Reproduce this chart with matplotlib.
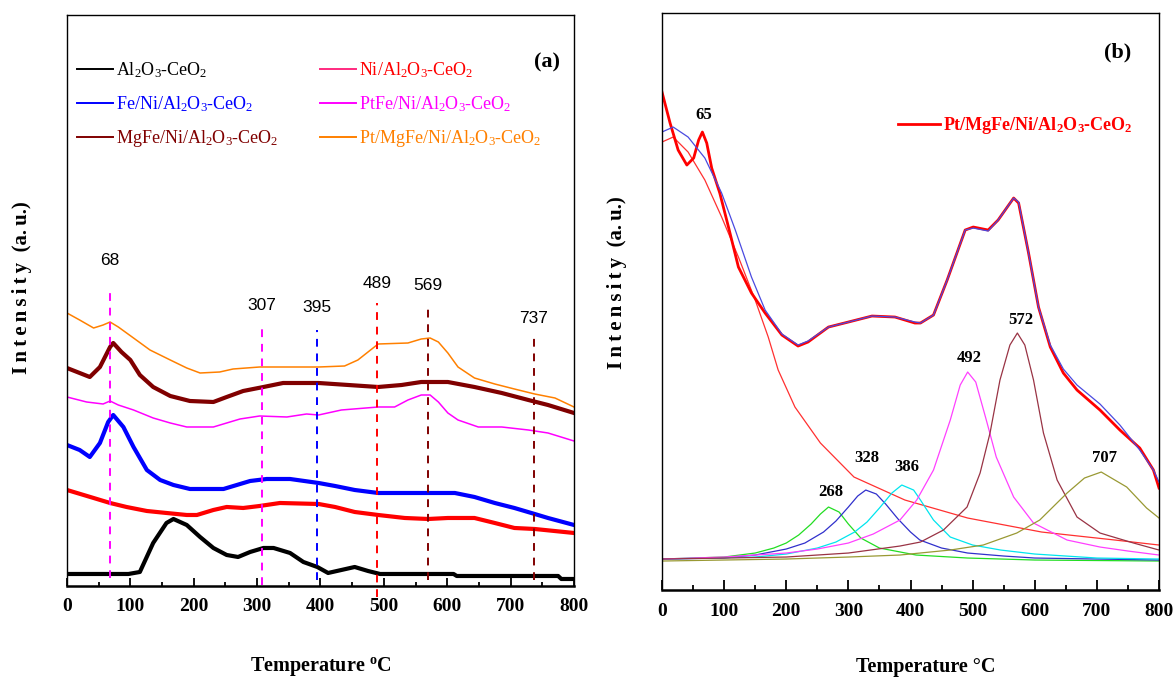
import matplotlib
matplotlib.use("Agg")
import matplotlib.pyplot as plt
from matplotlib import font_manager
from matplotlib.lines import Line2D
from matplotlib.ticker import MultipleLocator

plt.rcParams["font.family"] = "Liberation Serif"
plt.rcParams["mathtext.fontset"] = "custom"
plt.rcParams["mathtext.rm"] = "Liberation Serif"
plt.rcParams["mathtext.it"] = "Liberation Serif:italic"
plt.rcParams["mathtext.bf"] = "Liberation Serif:bold"

_installed = {f.name for f in font_manager.fontManager.ttflist}
NARROW = "Liberation Sans Narrow" if "Liberation Sans Narrow" in _installed else "Liberation Sans"

# ---------------- (a) H2-TPR profiles of the catalyst series ----------------
AL_T = [0, 97, 115, 136, 157, 168, 189, 210, 231, 252, 270, 289, 310, 326, 352, 373,
        395, 412, 433, 454, 475, 494, 610, 615, 775, 780, 800]
AL_I = [12, 12, 14, 43, 63, 67, 61, 49, 38, 31, 29, 34, 38, 38, 33, 24,
        19, 13, 16, 19, 15, 12, 12, 10, 10, 7, 7]

NI_T = [0, 42, 68, 94, 126, 157, 189, 205, 231, 252, 278, 304, 336, 397, 423, 454,
        491, 533, 570, 601, 643, 675, 706, 738, 800]
NI_I = [96, 88, 83, 79, 75, 73, 71, 71, 76, 79, 78, 80, 83, 82, 79, 74,
        71, 68, 67, 68, 68, 63, 58, 57, 53]

FE_T = [0, 20, 36, 52, 65, 73, 89, 105, 126, 147, 168, 194, 247, 268, 289, 315, 352,
        397, 423, 454, 491, 612, 643, 675, 706, 738, 759, 800]
FE_I = [141, 136, 129, 143, 164, 171, 159, 139, 116, 106, 101, 97, 97, 101, 105, 107, 107,
        103, 100, 96, 93, 93, 89, 83, 78, 72, 68, 61]

PTFE_T = [0, 31, 57, 68, 81, 105, 136, 163, 189, 231, 252, 273, 304, 347, 378, 397, 433,
          491, 517, 538, 559, 573, 586, 601, 617, 649, 686, 728, 759, 800]
PTFE_I = [189, 184, 182, 185, 181, 176, 168, 163, 159, 159, 163, 167, 170, 169, 172, 171, 176,
          179, 179, 186, 191, 191, 184, 173, 166, 159, 159, 156, 153, 145]

MGFE_T = [0, 20, 36, 52, 68, 73, 86, 100, 115, 136, 163, 194, 231, 252, 278, 310, 341,
          397, 444, 491, 528, 559, 601, 643, 686, 728, 759, 800]
MGFE_I = [218, 213, 209, 219, 239, 243, 234, 226, 211, 199, 190, 185, 184, 189, 195, 199, 203,
          203, 201, 199, 201, 204, 204, 199, 193, 186, 181, 173]

PTMGFE_T = [0, 20, 42, 57, 68, 81, 105, 131, 163, 189, 210, 241, 262, 304, 397, 438, 459,
            475, 491, 538, 559, 573, 586, 601, 617, 643, 675, 706, 738, 770, 800]
PTMGFE_I = [273, 266, 258, 261, 264, 259, 248, 236, 226, 218, 213, 214, 217, 219, 219, 220, 226,
            234, 242, 243, 247, 248, 244, 233, 219, 208, 202, 197, 192, 188, 179]

LABELS_A = [r"Al$_2$O$_3$-CeO$_2$", r"Fe/Ni/Al$_2$O$_3$-CeO$_2$", r"MgFe/Ni/Al$_2$O$_3$-CeO$_2$",
            r"Ni/Al$_2$O$_3$-CeO$_2$", r"PtFe/Ni/Al$_2$O$_3$-CeO$_2$", r"Pt/MgFe/Ni/Al$_2$O$_3$-CeO$_2$"]

PEAKS_A = [68, 307, 395, 489, 569, 737]

# ---------------- (b) deconvolution of Pt/MgFe/Ni/Al2O3-CeO2 ----------------
EXP_T = [0, 13, 26, 40, 51, 59, 65, 72, 80, 93, 107, 123, 144, 166, 193, 219, 235, 268, 300,
         338, 375, 407, 416, 437, 459, 488, 501, 525, 541, 566, 574, 590, 606, 625, 646, 668,
         705, 737, 769, 791, 800]
EXP_I = [498, 467, 440, 425, 432, 450, 458, 447, 422, 397, 363, 323, 297, 277, 255, 244, 248, 263, 268,
         274, 273, 267, 267, 275, 310, 360, 363, 360, 370, 392, 387, 337, 283, 243, 217, 200,
         180, 160, 142, 120, 102]

ENV_T = [0, 18, 42, 69, 96, 118, 144, 166, 193, 219, 235, 268, 300, 338, 375, 407, 416, 437,
         459, 488, 501, 525, 541, 566, 574, 590, 606, 625, 646, 668, 705, 737, 769, 791, 800]
ENV_I = [458, 463, 453, 432, 397, 360, 313, 280, 256, 245, 249, 263, 268, 274, 273, 268, 267, 275,
         310, 360, 362, 359, 370, 392, 388, 337, 283, 245, 221, 205, 186, 165, 140, 120, 108]

BG_T = [0, 18, 42, 69, 96, 123, 150, 171, 187, 214, 255, 309, 391, 492, 611, 729, 800]
BG_I = [448, 453, 438, 410, 373, 333, 290, 253, 220, 183, 147, 113, 90, 72, 58, 50, 45]

P268_T = [0, 100, 150, 180, 200, 220, 240, 255, 268, 285, 300, 320, 350, 409, 492, 600, 800]
P268_I = [31, 33, 37, 42, 47, 55, 66, 76, 83, 78, 66, 52, 42, 35, 32, 30, 29]

P328_T = [0, 100, 150, 200, 230, 260, 280, 300, 315, 328, 345, 360, 380, 400, 415, 450, 492,
          550, 600, 700, 800]
P328_I = [31, 32, 35, 41, 47, 58, 69, 83, 94, 100, 96, 86, 71, 58, 50, 42, 37,
          34, 32, 31, 30]

P386_T = [0, 150, 200, 250, 280, 310, 330, 350, 370, 386, 405, 416, 437, 464, 500, 545, 600, 700, 800]
P386_I = [31, 33, 36, 42, 48, 58, 68, 82, 97, 105, 100, 90, 70, 53, 45, 40, 36, 32, 31]

P492_T = [0, 100, 200, 250, 300, 340, 383, 410, 437, 464, 480, 492, 505, 522, 538, 566, 598,
          652, 705, 750, 800]
P492_I = [31, 33, 37, 41, 47, 56, 70, 90, 120, 170, 205, 218, 208, 170, 133, 93, 67,
          50, 43, 39, 35]

P572_T = [0, 200, 300, 383, 416, 453, 491, 512, 528, 544, 560, 572, 584, 598, 614, 636, 668,
          705, 759, 800]
P572_I = [31, 33, 37, 44, 48, 60, 83, 117, 157, 210, 245, 257, 245, 210, 157, 110, 73,
          57, 47, 40]

P707_T = [0, 200, 300, 383, 464, 517, 571, 608, 652, 680, 707, 748, 780, 800]
P707_I = [29, 31, 33, 35, 40, 45, 57, 70, 97, 112, 118, 103, 82, 72]

PEAKS_B = [65, 268, 328, 386, 492, 572, 707]

INTENSITY = "I\u2009n\u2009t\u2009e\u2009n\u2009s\u2009i\u2009t\u2009y  (a.\u2009u.)"


def style_temperature_axis(ax, ymax, major_len, minor_len):
    ax.set_xlim(0, 800)
    ax.set_ylim(0, ymax)
    ax.set_yticks([])
    ax.xaxis.set_major_locator(MultipleLocator(100))
    ax.xaxis.set_minor_locator(MultipleLocator(50))
    ax.tick_params(axis="x", which="major", direction="in", length=major_len, width=1.3,
                   pad=9, labelsize=14)
    ax.tick_params(axis="x", which="minor", direction="in", length=minor_len, width=1.3)
    for lbl in ax.get_xticklabels():
        lbl.set_fontweight("bold")
    for side in ("left", "right", "top"):
        ax.spines[side].set_linewidth(1.0)
    ax.spines["bottom"].set_linewidth(1.8)


fig = plt.figure(figsize=(11.75, 6.86), dpi=100)
ax_a = fig.add_axes([0.0570, 0.1458, 0.4315, 0.8323])
ax_b = fig.add_axes([0.5634, 0.1399, 0.4230, 0.8411])

# ---- panel (a) ----
ax_a.plot(AL_T, AL_I, color="black", lw=3.0)
ax_a.plot(NI_T, NI_I, color="#ff0000", lw=3.0)
ax_a.plot(FE_T, FE_I, color="#0000ff", lw=3.0)
ax_a.plot(PTFE_T, PTFE_I, color="#ff00ff", lw=1.1)
ax_a.plot(MGFE_T, MGFE_I, color="#800000", lw=3.0)
ax_a.plot(PTMGFE_T, PTMGFE_I, color="#ff8000", lw=1.1)

peak_colors_a = ["#ff00ff", "#ff00ff", "#0000ff", "#ff0000", "#800000", "#800000"]
line_top = [299, 258, 256, 283, 281, 249]
line_bottom = [8, 1, 6, -11, 6, 6]
label_y = [326, 281, 279, 303, 301, 268]
for t, c, y0, y1, ly in zip(PEAKS_A, peak_colors_a, line_bottom, line_top, label_y):
    ax_a.vlines(t, y0, y1, colors=c, lw=1.4, linestyles=(0, (4, 3.5)), clip_on=False)
    ax_a.text(t, ly, str(t), ha="center", va="center", fontsize=12.5, family=NARROW)

handle_colors = ["black", "#0000ff", "#800000", "#ff2a7f", "#ff00ff", "#ff8000"]
text_colors = ["black", "#0000ff", "#800000", "#ff0000", "#ff00ff", "#ff8000"]
handles = [Line2D([], [], color=c, lw=1.4) for c in handle_colors]
leg_kw = dict(frameon=False, fontsize=13, handlelength=2.0, handletextpad=0.15,
              labelspacing=0.78, borderpad=0, borderaxespad=0, loc="upper left")
leg1 = ax_a.legend(handles[:3], LABELS_A[:3], bbox_to_anchor=(0.020, 0.920),
                   labelcolor=text_colors[:3], **leg_kw)
ax_a.add_artist(leg1)
ax_a.legend(handles[3:], LABELS_A[3:], bbox_to_anchor=(0.499, 0.920),
            labelcolor=text_colors[3:], **leg_kw)

ax_a.text(0.947, 0.916, "(a)", transform=ax_a.transAxes, ha="center", va="center",
          fontsize=16, fontweight="bold")
style_temperature_axis(ax_a, 571, 6, 3)
ax_a.set_xlabel(r"Temperature $^\mathbf{o}$C", fontsize=14.5, fontweight="bold")
ax_a.xaxis.set_label_coords(0.5, -0.121)
ax_a.set_ylabel(INTENSITY, fontsize=15, fontweight="bold")
ax_a.yaxis.set_label_coords(-0.069, 0.522)

# ---- panel (b) ----
ax_b.plot(BG_T, BG_I, color="#ff3030", lw=0.9)
ax_b.plot(P268_T, P268_I, color="#22dd22", lw=0.9)
ax_b.plot(P328_T, P328_I, color="#3030cc", lw=0.9)
ax_b.plot(P386_T, P386_I, color="#00e5ee", lw=0.9)
ax_b.plot(P492_T, P492_I, color="#ff40ff", lw=0.9)
ax_b.plot(P572_T, P572_I, color="#993344", lw=0.9)
ax_b.plot(P707_T, P707_I, color="#999933", lw=0.9)
ax_b.plot(EXP_T, EXP_I, color="#ff0000", lw=2.0,
          label=r"Pt/MgFe/Ni/Al$_\mathbf{2}$O$_\mathbf{3}$-CeO$_\mathbf{2}$")
ax_b.plot(ENV_T, ENV_I, color="#4a4ae0", lw=0.9)

label_pos_b = [(68, 475), (272, 98), (330, 132), (394, 123), (494, 232), (578, 270), (713, 132)]
for t, (lx, ly) in zip(PEAKS_B, label_pos_b):
    ax_b.text(lx, ly, str(t), ha="center", va="center", fontsize=12, fontweight="bold")

ax_b.legend(loc="upper left", bbox_to_anchor=(0.475, 0.823), frameon=False,
            borderpad=0, borderaxespad=0, handlelength=2.3, handletextpad=0.2,
            labelcolor="#ff0000", prop={"size": 13, "weight": "bold"})
ax_b.text(0.917, 0.931, "(b)", transform=ax_b.transAxes, ha="center", va="center",
          fontsize=16, fontweight="bold")
style_temperature_axis(ax_b, 577, 7, 3.5)
ax_b.set_xlabel("Temperature °C", fontsize=14.5, fontweight="bold")
ax_b.xaxis.set_label_coords(0.531, -0.116)
ax_b.set_ylabel(INTENSITY, fontsize=15, fontweight="bold")
ax_b.yaxis.set_label_coords(-0.070, 0.532)

fig.savefig("out.png", dpi=100)
